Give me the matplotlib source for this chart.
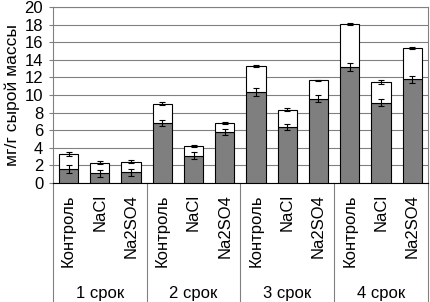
import matplotlib
matplotlib.use("Agg")
import matplotlib.pyplot as plt
from matplotlib.lines import Line2D
import numpy as np

plt.rcParams['font.family'] = ['Liberation Sans', 'DejaVu Sans']

# данные
groups = ['1 срок', '2 срок', '3 срок', '4 срок']
variants = ['Контроль', 'NaCl', 'Na2SO4']
# нижняя (тёмная) часть
dark = [1.6, 1.1, 1.2, 6.8, 3.1, 5.8, 10.3, 6.4, 9.6, 13.2, 9.1, 11.8]
dark_err = [0.43, 0.4, 0.42, 0.38, 0.38, 0.3, 0.45, 0.35, 0.4, 0.45, 0.4, 0.4]
# общая высота столбика
total = [3.3, 2.3, 2.4, 9.0, 4.2, 6.85, 13.3, 8.35, 11.65, 18.05, 11.45, 15.35]
total_err = [0.18, 0.17, 0.18, 0.18, 0.15, 0.12, 0.1, 0.12, 0.1, 0.1, 0.2, 0.12]

n = len(dark)
x = np.arange(n)
upper = [t - d for t, d in zip(total, dark)]

fig = plt.figure(figsize=(4.3, 3.02), dpi=100)
ax = fig.add_axes([0.123, 0.394, 0.872, 0.583])

ax.bar(x, dark, width=0.62, color='#7f7f7f', edgecolor='black', linewidth=0.8, zorder=3)
ax.bar(x, upper, bottom=dark, width=0.62, color='white', edgecolor='black', linewidth=0.8, zorder=3)
ax.errorbar(x, dark, yerr=dark_err, fmt='none', ecolor='black', elinewidth=0.8, capsize=2.5, capthick=0.8, zorder=4)
ax.errorbar(x, total, yerr=total_err, fmt='none', ecolor='black', elinewidth=0.8, capsize=2.5, capthick=0.8, zorder=4)

ax.set_xlim(-0.5, n - 0.5)
ax.set_ylim(0, 20)
ax.set_yticks(range(0, 21, 2))
ax.tick_params(axis='y', labelsize=12, length=3, color='#808080', pad=4)
ax.yaxis.grid(True, color='#808080', linewidth=0.8, zorder=0)
ax.set_ylabel('мг/г сырой массы', fontsize=12.5)
ax.yaxis.set_label_coords(-0.088, 0.5)

ax.set_xticks(x)
ax.set_xticklabels(variants * len(groups), rotation=90, fontsize=12)
ax.tick_params(axis='x', length=0, pad=8)

for side in ['top', 'right', 'left']:
    ax.spines[side].set_color('#808080')
ax.spines['bottom'].set_color('black')

# разделители групп и подписи сроков
for i in range(len(groups) + 1):
    xs = i * 3 - 0.5
    ax.add_line(Line2D([xs, xs], [0, -0.7], transform=ax.get_xaxis_transform(),
                       color='#808080', linewidth=0.8, clip_on=False))
for i, g in enumerate(groups):
    ax.text(i * 3 + 1, -0.625, g, transform=ax.get_xaxis_transform(),
            ha='center', va='center', fontsize=12)

fig.savefig('out.png', dpi=100)
